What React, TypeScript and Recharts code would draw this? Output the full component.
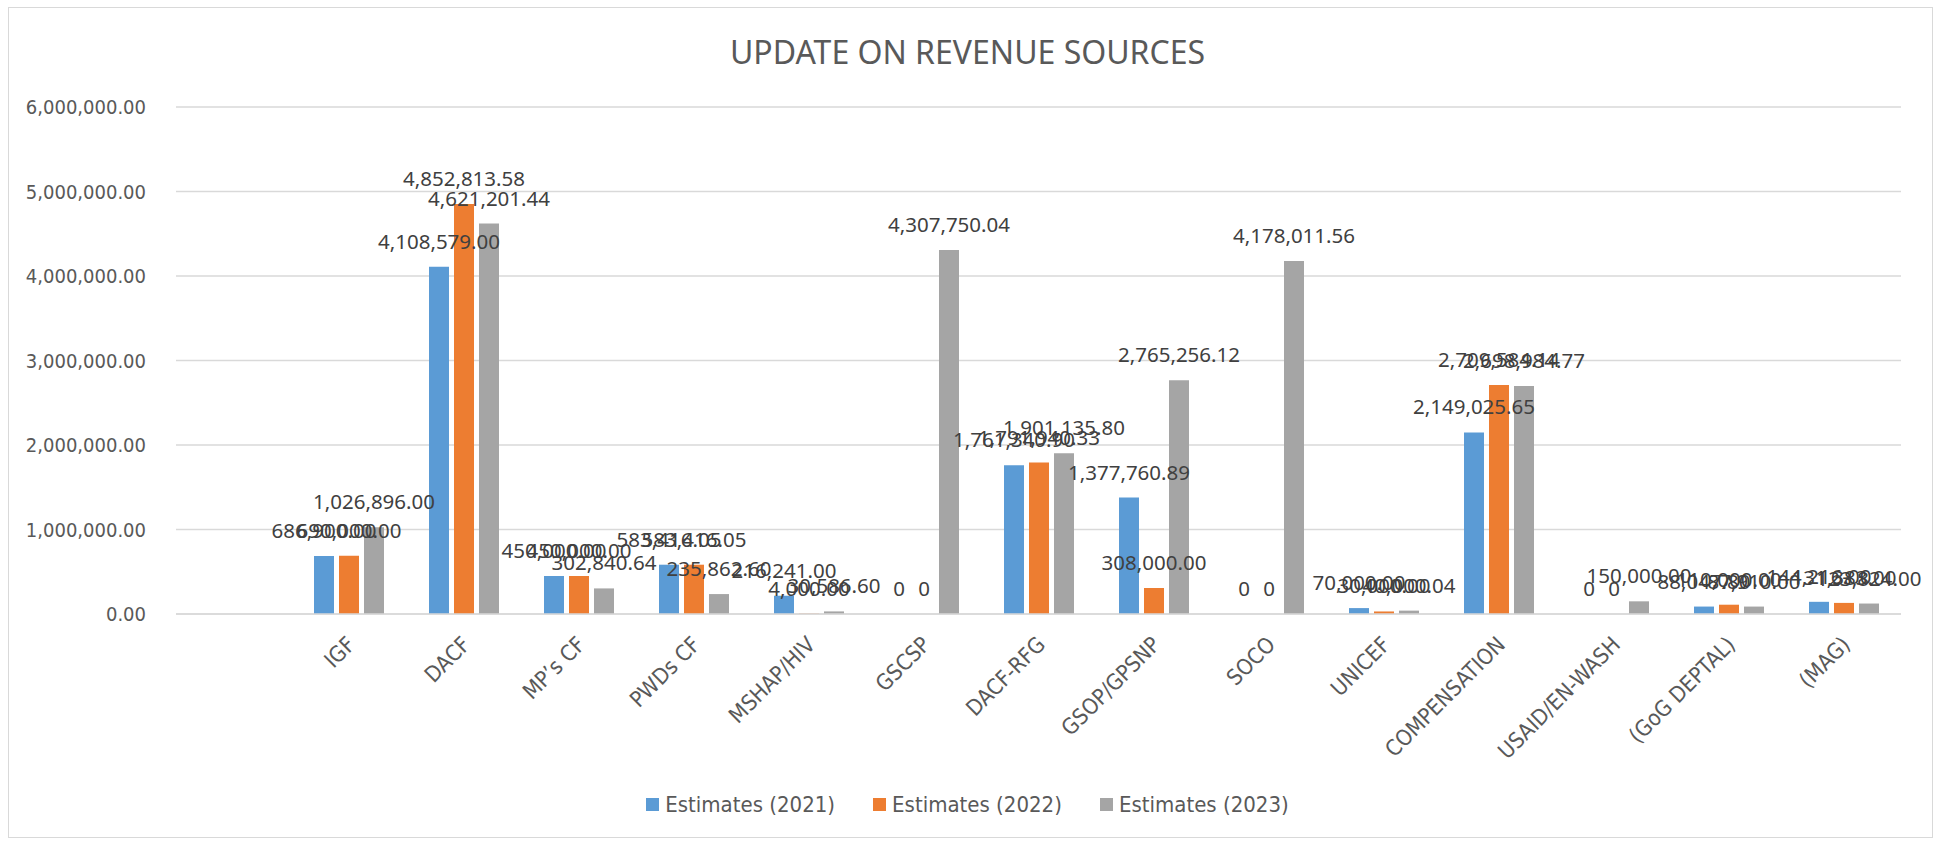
import React from 'react'
import { BarChart, Bar, XAxis, YAxis, CartesianGrid, Legend, LabelList } from 'recharts'

// first slot is empty in the original sheet, which leaves a gap before IGF
const categories = ['', 'IGF', 'DACF', 'MP\u2019s CF', 'PWDs CF', 'MSHAP/HIV', 'GSCSP', 'DACF-RFG', 'GSOP/GPSNP', 'SOCO', 'UNICEF', 'COMPENSATION', 'USAID/EN-WASH', '(GoG DEPTAL)', '(MAG)']

const est2021 = [null, 686900.0, 4108579.0, 450000.0, 583416.05, 216241.0, 0, 1761340.9, 1377760.89, 0, 70000.0, 2149025.65, 0, 88047.8, 144216.0]
const est2022 = [null, 690000.0, 4852813.58, 450000.0, 583416.05, 4000.0, 0, 1791940.33, 308000.0, 0, 30000.0, 2709584.14, 0, 110000.0, 131383.0]
const est2023 = [null, 1026896.0, 4621201.44, 302840.64, 235862.6, 30586.6, 4307750.04, 1901135.8, 2765256.12, 4178011.56, 40000.04, 2698984.77, 150000.0, 87910.0, 123824.0]

const yTicks = [0, 1000000, 2000000, 3000000, 4000000, 5000000, 6000000]

const series = [
  { key: 'e2021', name: 'Estimates (2021)', color: '#5B9BD5' },
  { key: 'e2022', name: 'Estimates (2022)', color: '#ED7D31' },
  { key: 'e2023', name: 'Estimates (2023)', color: '#A5A5A5' },
]

const data = categories.map((c, i) => ({
  name: c,
  e2021: est2021[i],
  e2022: est2022[i],
  e2023: est2023[i],
}))

const narrow = "'Liberation Sans Narrow', 'DejaVu Sans Condensed', sans-serif"
const labelFont = "'Noto Sans', 'Open Sans', sans-serif"

const money = (v: number) =>
  v.toLocaleString('en-US', { minimumFractionDigits: 2, maximumFractionDigits: 2 })

const XTick = ({ x, y, payload }: any) => (
  <g transform={`translate(${x + 8},${y + 30})`}>
    <text transform="rotate(-45)" textAnchor="end" fill="#595959" fontSize={22} fontFamily={narrow}>
      {payload.value}
    </text>
  </g>
)

const renderValue = (props: any) => {
  const { x, y, width, height, value } = props
  if (value === null || value === undefined) return null
  const n = Array.isArray(value) ? value[1] - value[0] : Number(value)
  return (
    <text x={x + width / 2} y={y + Math.min(height, 0) - 18} textAnchor="middle" fill="#404040" fontSize={20.5} fontFamily={labelFont}>
      {n === 0 ? '0' : money(n)}
    </text>
  )
}

// zero bars are dropped by recharts unless they get a (sub-pixel) minimum height; Excel still labels them "0"
const zeroFloor = (v: any) => (v === 0 ? 0.01 : 0)

const renderLegend = () => (
  <div style={{ display: 'flex', justifyContent: 'center', gap: 38, fontFamily: narrow, fontSize: 22, color: '#595959' }}>
    {series.map(s => (
      <span key={s.key} style={{ display: 'flex', alignItems: 'center', gap: 6 }}>
        <span style={{ width: 13, height: 13, background: s.color, display: 'inline-block' }} />
        {s.name}
      </span>
    ))}
  </div>
)

export default function App() {
  return (
    <div style={{ position: 'absolute', left: 0, top: 0, width: 1935, height: 843, background: '#fff' }}>
      <div style={{ position: 'absolute', left: 8, top: 7, width: 1923, height: 829, border: '1.5px solid #D9D9D9' }} />
      <div style={{ position: 'absolute', top: 32, left: 0, width: 1935, textAlign: 'center', fontFamily: labelFont, fontSize: 32, lineHeight: '40px', color: '#595959' }}>
        UPDATE ON REVENUE SOURCES
      </div>
      <BarChart
        width={1935}
        height={843}
        data={data}
        margin={{ top: 107, right: 34, left: 0, bottom: 0 }}
        barSize={20}
        barGap={5}
        style={{ position: 'absolute', left: 0, top: 0 }}
      >
        <CartesianGrid vertical={false} stroke="#D9D9D9" strokeWidth={1.5} />
        <XAxis
          dataKey="name"
          interval={0}
          height={229}
          tick={<XTick />}
          tickLine={false}
          tickSize={0}
          axisLine={{ stroke: '#D9D9D9', strokeWidth: 1.5 }}
        />
        <YAxis
          width={176}
          domain={[0, 6000000]}
          ticks={yTicks}
          tickFormatter={money}
          axisLine={false}
          tickLine={false}
          tickSize={0}
          tickMargin={30}
          tick={{ fill: '#595959', fontSize: 20, fontFamily: narrow }}
        />
        <Legend
          layout="horizontal"
          align="center"
          verticalAlign="middle"
          content={renderLegend}
          wrapperStyle={{ top: 792, left: 0, width: 1935 }}
        />
        {series.map(s => (
          <Bar key={s.key} dataKey={s.key} name={s.name} fill={s.color} minPointSize={zeroFloor} isAnimationActive={false}>
            <LabelList dataKey={s.key} content={renderValue} />
          </Bar>
        ))}
      </BarChart>
    </div>
  )
}
